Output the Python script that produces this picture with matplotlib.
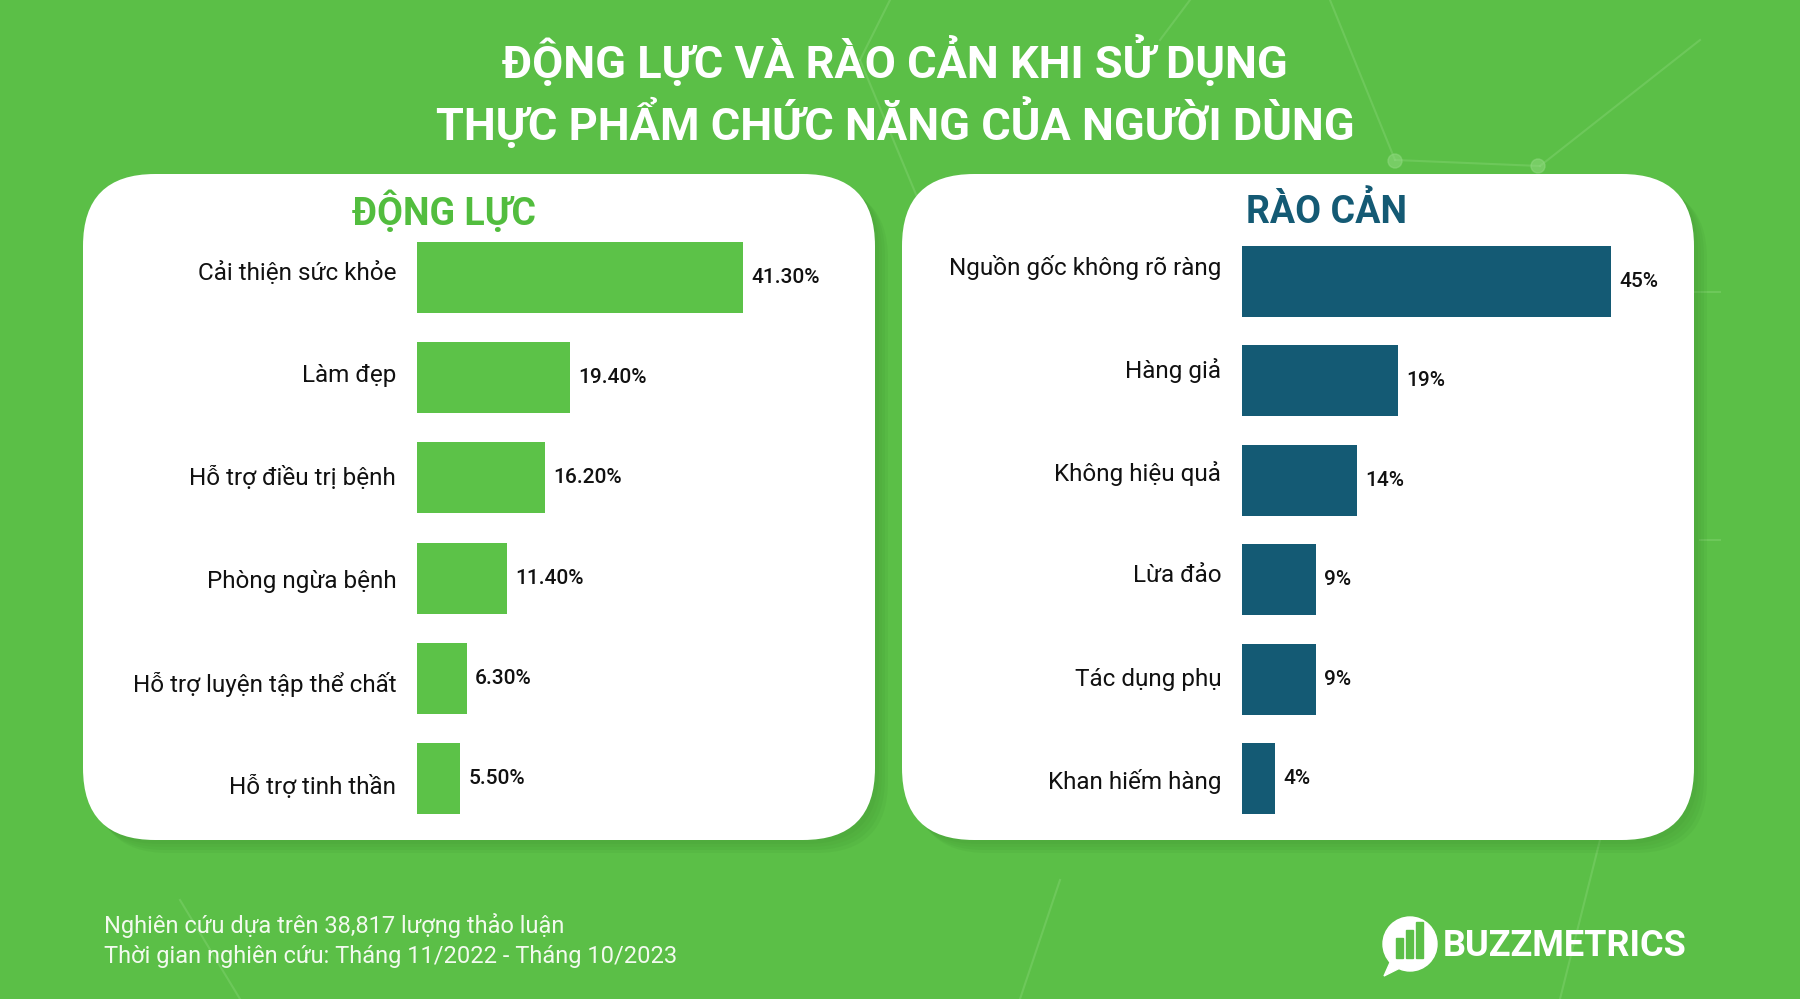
import numpy as np
import matplotlib
matplotlib.use("Agg")
import matplotlib.pyplot as plt
from matplotlib.patches import FancyBboxPatch, Circle, Rectangle, Polygon

plt.rcParams['font.family'] = ['Roboto', 'Noto Sans', 'DejaVu Sans']

# ---- dữ liệu ----
dong_luc_labels = ['Cải thiện sức khỏe', 'Làm đẹp', 'Hỗ trợ điều trị bệnh',
                   'Phòng ngừa bệnh', 'Hỗ trợ luyện tập thể chất', 'Hỗ trợ tinh thần']
dong_luc_values = [41.3, 19.4, 16.2, 11.4, 6.3, 5.5]
dong_luc_text = ['41.30%', '19.40%', '16.20%', '11.40%', '6.30%', '5.50%']

rao_can_labels = ['Nguồn gốc không rõ ràng', 'Hàng giả', 'Không hiệu quả',
                  'Lừa đảo', 'Tác dụng phụ', 'Khan hiếm hàng']
rao_can_values = [45, 19, 14, 9, 9, 4]
rao_can_text = ['45%', '19%', '14%', '9%', '9%', '4%']

title_lines = ['ĐỘNG LỰC VÀ RÀO CẢN KHI SỬ DỤNG', 'THỰC PHẨM CHỨC NĂNG CỦA NGƯỜI DÙNG']
footer_lines = ['Nghiên cứu dựa trên 38,817 lượng thảo luận',
                'Thời gian nghiên cứu: Tháng 11/2022 - Tháng 10/2023']

BG = '#5bbf47'
GREEN = '#5cc248'
HEAD_GREEN = '#52bd3e'
BLUE = '#145a74'

W, H = 1800, 999
fig = plt.figure(figsize=(18, 9.99), dpi=100)
fig.patch.set_facecolor(BG)

# lớp nền tính bằng pixel
bg = fig.add_axes([0, 0, 1, 1])
bg.set_xlim(0, W)
bg.set_ylim(H, 0)
bg.axis('off')

# đường trang trí mờ
deco = [((890, 0), (860, 60)), ((860, 60), (960, 300)), ((1330, 0), (1395, 160)),
        ((1395, 160), (1540, 166)), ((1540, 166), (1700, 40)), ((1190, 0), (1160, 40)),
        ((1600, 840), (1560, 999)), ((180, 900), (240, 999)), ((1680, 292), (1720, 292)),
        ((1700, 540), (1720, 540)), ((1020, 999), (1060, 880))]
for (x0, y0), (x1, y1) in deco:
    bg.plot([x0, x1], [y0, y1], color='#8fd97f', lw=1.5, alpha=0.35, zorder=0)
for cx, cy in [(1395, 161), (1538, 166)]:
    bg.add_patch(Circle((cx, cy), 7, color='#8fd97f', alpha=0.55, zorder=0))

# khung trắng bo góc + bóng
for px in [83, 902]:
    for k, a in enumerate([0.06, 0.06, 0.07, 0.08]):
        off = 4 + k * 3
        bg.add_patch(FancyBboxPatch((px + off, 174 + off), 792, 666,
                                    boxstyle='round,pad=0,rounding_size=72',
                                    fc='#2f7a25', ec='none', alpha=a, zorder=1))
    bg.add_patch(FancyBboxPatch((px, 174), 792, 666,
                                boxstyle='round,pad=0,rounding_size=72',
                                fc='white', ec='none', zorder=2))

# tiêu đề
for txt, y in zip(title_lines, [61, 123]):
    bg.text(895, y, txt, color='white', fontsize=32.5, fontweight='bold',
            ha='center', va='center', zorder=3)

bg.text(444, 212, 'ĐỘNG LỰC', color=HEAD_GREEN, fontsize=27, fontweight='bold',
        ha='center', va='center', zorder=3)
bg.text(1326, 212, 'RÀO CẢN', color=BLUE, fontsize=27, fontweight='bold',
        ha='center', va='center', zorder=3)

# chân trang
for txt, y in zip(footer_lines, [925, 957]):
    bg.text(104, y, txt, color='#f2faee', fontsize=17, ha='left', va='center', zorder=3)

# logo
bg.add_patch(Circle((1410, 944), 27, color='white', zorder=3))
bg.add_patch(Polygon([[1392, 958], [1384, 976], [1404, 966]], closed=True,
                     color='white', zorder=3))
for bx, bh in [(1396, 20), (1406, 28), (1416, 36)]:
    bg.add_patch(Rectangle((bx, 958 - bh), 7, bh, color=BG, zorder=4))
bg.text(1443, 946, 'BUZZMETRICS', color='white', fontsize=26, fontweight='bold',
        ha='left', va='center', zorder=3)


def px_axes(left, top, width, height):
    return fig.add_axes([left / W, 1 - (top + height) / H, width / W, height / H])


def bar_panel(ax, labels, values, texts, color, label_shift):
    y = np.arange(len(values))
    ax.barh(y, values, height=0.71, color=color, zorder=3)
    ax.set_xlim(0, 50)
    ax.set_ylim(len(values) - 0.5, -0.5)
    ax.axis('off')
    ax.patch.set_alpha(0)
    for i, (lab, v, t) in enumerate(zip(labels, values, texts)):
        ax.annotate(lab, (0, i + label_shift[i]), xytext=(-15, 0), textcoords='offset points',
                    ha='right', va='center', fontsize=17.5, color='#111111')
        ax.annotate(t, (v, i), xytext=(6, 0), textcoords='offset points',
                    ha='left', va='center', fontsize=15, fontweight='medium', color='#111111')


ax1 = px_axes(417, 227.5, 395, 601)
bar_panel(ax1, dong_luc_labels, dong_luc_values, dong_luc_text, GREEN,
          [-0.05, -0.02, 0.0, 0.03, 0.06, 0.09])

ax2 = px_axes(1242, 231.5, 410, 597)
bar_panel(ax2, rao_can_labels, rao_can_values, rao_can_text, BLUE,
          [-0.14, -0.1, -0.07, -0.04, 0.0, 0.03])

fig.savefig('out.png', dpi=100, facecolor=BG)
